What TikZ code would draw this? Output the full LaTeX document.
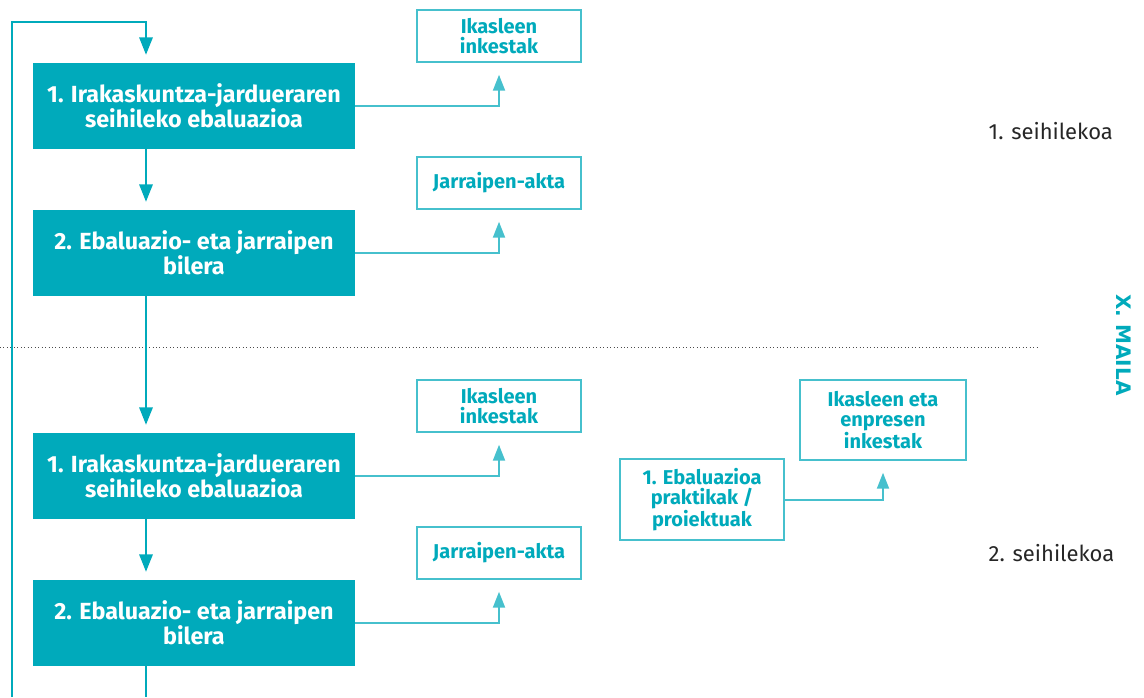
\documentclass[tikz,border=0pt]{standalone}
\usepackage{fontspec}
\setmainfont{Fira Sans}
\newfontfamily\wideface{DejaVu Sans}
\usepackage{tikz}
\usetikzlibrary{arrows.meta}
\definecolor{mailateal}{RGB}{0,170,187}
\definecolor{lineteal}{RGB}{70,192,205}

\begin{document}
\begin{tikzpicture}[x=0.75pt, y=-0.75pt,
  fullbox/.style={fill=mailateal, text=white, align=center, inner sep=0pt,
    minimum width=241.5pt, minimum height=64.5pt,
    font=\bfseries\fontsize{17.5}{17}\selectfont},
  docbox/.style={draw=lineteal, line width=1.1pt, text=mailateal, align=center,
    inner sep=0pt, minimum width=123pt, minimum height=39pt,
    font=\bfseries\fontsize{15}{15}\selectfont},
  mainflow/.style={draw=mailateal, line width=1.5pt,
    -{Triangle[width=10pt,length=13pt]}, shorten >=6pt},
  docflow/.style={draw=lineteal, line width=1.5pt,
    -{Triangle[width=9pt,length=12pt]}, shorten >=9pt},
  semlabel/.style={font=\fontsize{16.5}{18}\selectfont, text=black!85, anchor=west}]

\useasboundingbox (0,0) rectangle (1144,697);

% ── Trennlinie zwischen den Semestern ───────────────────────────────
\draw[dotted, black!70, line width=0.6pt] (0,347) -- (1038,347);

% ── Senkrechte Hauptachse ───────────────────────────────────────────
\coordinate (spine) at (146,0);

% ── Hauptblöcke und Dokumente, je Semester ──────────────────────────
\foreach \sem/\yo in {1/0, 2/370}
{
  \node[fullbox] (eval\sem) at (194, 106+\yo)
    {1. Irakaskuntza-jardueraren\\seihileko ebaluazioa};
  \node[fullbox] (meet\sem) at (194, 253+\yo)
    {2. Ebaluazio- eta jarraipen\\bilera};

  \node[docbox] (survey\sem) at (499, 36+\yo) {Ikasleen\\inkestak};
  \node[docbox] (minutes\sem) at (499, 183+\yo) {Jarraipen-akta};

  \draw[mainflow] (eval\sem.south -| spine) -- (meet\sem.north -| spine);
  \draw[docflow] (eval\sem.east) -| (survey\sem.south);
  \draw[docflow] (meet\sem.east) -| (minutes\sem.south);
}

% ── Praktikak / proiektuak ──────────────────────────────────────────
\node[docbox, minimum height=60.75pt] (practice) at (702, 499.5)
  {1. Ebaluazioa\\praktikak /\\proiektuak};
\node[docbox, minimum width=124.5pt, minimum height=60pt] (firms) at (883, 420)
  {Ikasleen eta\\enpresen\\inkestak};
\draw[docflow] (practice.east) -| (firms.south);

% ── Übergang und Rückführung ────────────────────────────────────────
\draw[mainflow] (meet1.south -| spine) -- (eval2.north -| spine);
\coordinate (loopbot) at (12,697);
\coordinate (looptop) at (12,22);
\coordinate (downend) at (146,697);
\draw[mainflow] (loopbot) -- (looptop) -| (eval1.north -| spine);
\draw[draw=mailateal, line width=1.5pt] (meet2.south -| spine) -- (downend);

% ── Beschriftungen rechts ───────────────────────────────────────────
\node[semlabel] (sem1) at (984,131) {1. seihilekoa};
\node[semlabel] (sem2) at (984,553) {2. seihilekoa};
\node[rotate=-90, text=mailateal, font=\wideface\bfseries\fontsize{15}{15}\selectfont]
  (level) at (1124,345) {X. MAILA};

\end{tikzpicture}
\end{document}
